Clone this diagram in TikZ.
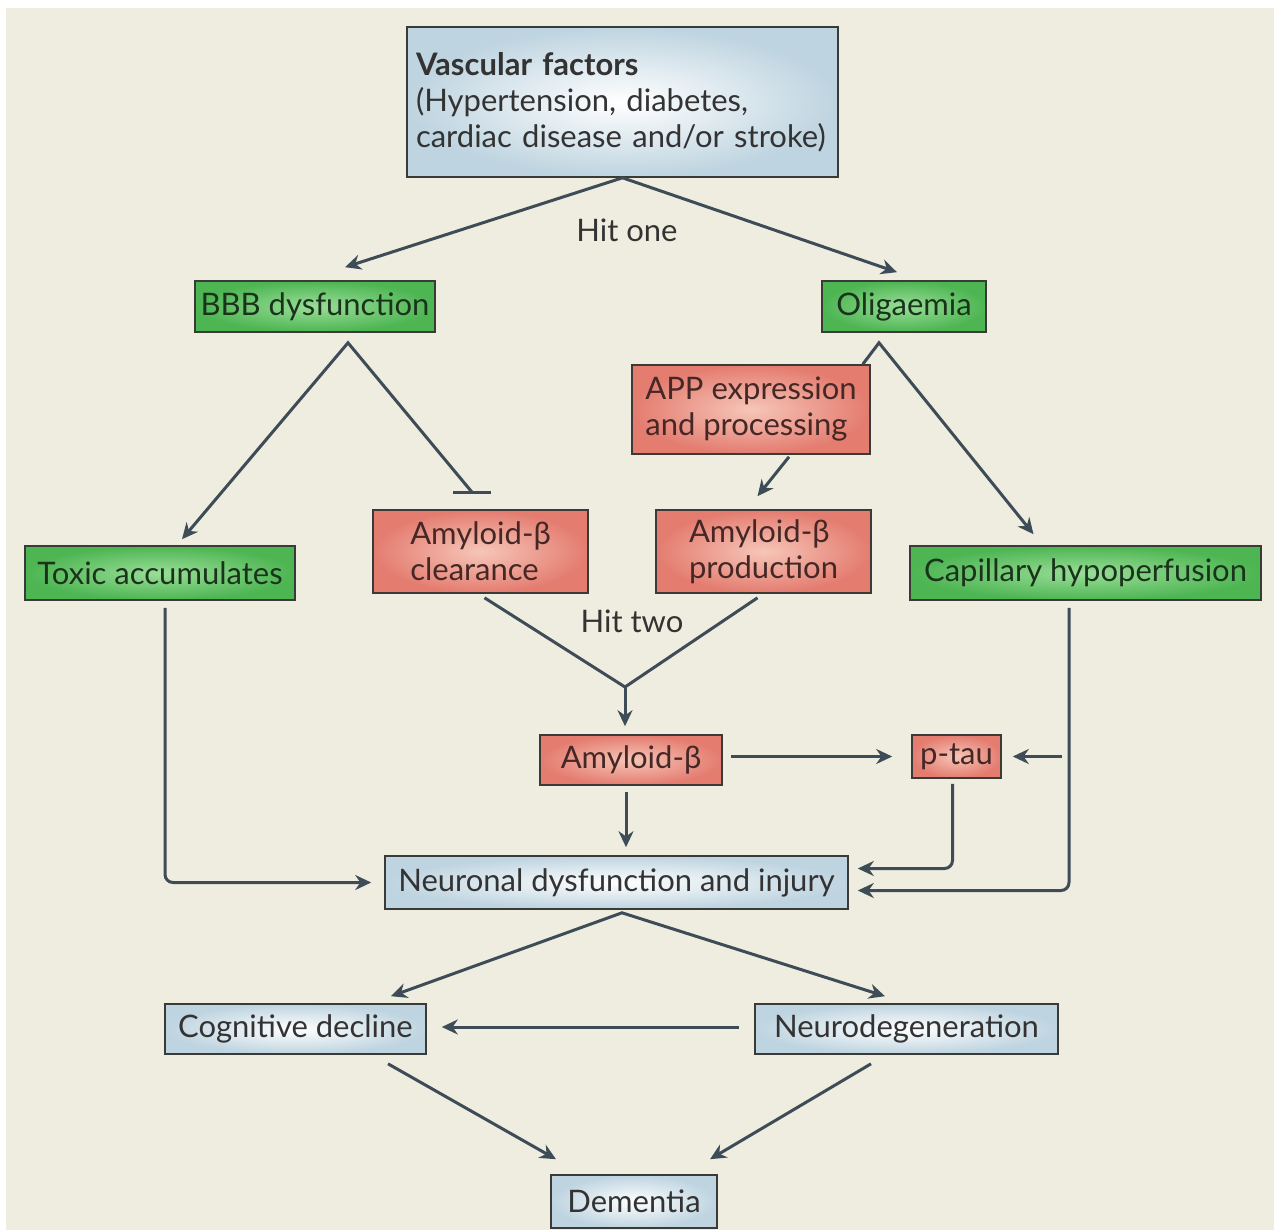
\documentclass[tikz,border=0pt]{standalone}
\usepackage{fontspec}
\setmainfont{Lato}
\usepackage{tikz}
\usetikzlibrary{arrows.meta,calc}
\definecolor{bgcream}{HTML}{EFEDE0}
\definecolor{linegray}{HTML}{3D4C56}
\definecolor{boxedge}{HTML}{3A3A36}
\definecolor{textgray}{HTML}{333333}
\definecolor{bluefill}{HTML}{BED4E0}
\definecolor{greenfill}{HTML}{4DB552}
\definecolor{greenglow}{HTML}{9ADE98}
\definecolor{greentext}{HTML}{1A341C}
\definecolor{redfill}{HTML}{E47C70}
\definecolor{redglow}{HTML}{F6C6B8}
\definecolor{redtext}{HTML}{452826}

\begin{document}
\begin{tikzpicture}[x=1pt, y=-1pt, node font=\fontsize{31}{36}\selectfont,
		box/.style={draw=boxedge, line width=1.6pt, inner sep=0pt, text=textgray},
		bluebox/.style={box, inner color=white, outer color=bluefill},
		greenbox/.style={box, inner color=greenglow, outer color=greenfill, text=greentext},
		redbox/.style={box, inner color=redglow, outer color=redfill, text=redtext, align=left},
		link/.style={draw=linegray, line width=3pt},
		arr/.style={link, -{Stealth[length=16pt,width=15pt]}},
		hitlabel/.style={text=textgray, inner sep=1pt}]
			\useasboundingbox (0,0) rectangle (1274,1230);
			\fill[white] (0,0) rectangle (1274,1230);
			\fill[bgcream] (6,8) rectangle (1274,1230);
			\node[bluebox, minimum width=431pt, minimum height=150pt, text width=413pt, align=left] (vasc) at (622.5,102) {\textbf{Vascular factors}\\(Hypertension, diabetes,\\cardiac disease and/or stroke)};
			\node[greenbox, minimum width=240pt, minimum height=51pt] (bbb) at (315,306.5) {BBB dysfunction};
			\node[greenbox, minimum width=164pt, minimum height=51pt] (olig) at (904,306.5) {Oligaemia};
			\node[redbox, minimum width=238pt, minimum height=89pt] (app) at (751,409.5) {APP expression\\and processing};
			\node[greenbox, minimum width=270pt, minimum height=54pt] (toxic) at (160,573) {Toxic accumulates};
			\node[redbox, minimum width=215pt, minimum height=83pt] (clear) at (480.5,551.5) {Amyloid-β\\clearance};
			\node[redbox, minimum width=215pt, minimum height=83pt] (prod) at (763.5,551.5) {Amyloid-β\\production};
			\node[greenbox, minimum width=351pt, minimum height=54pt] (cap) at (1085.5,573) {Capillary hypoperfusion};
			\node[redbox, minimum width=182pt, minimum height=50pt] (amyb) at (631,760) {Amyloid-β};
			\node[redbox, minimum width=89pt, minimum height=43pt] (ptau) at (956.5,756.5) {p-tau};
			\node[bluebox, minimum width=463pt, minimum height=53pt] (neur) at (616.5,882.5) {Neuronal dysfunction and injury};
			\node[bluebox, minimum width=261pt, minimum height=50pt] (cog) at (295.5,1029) {Cognitive decline};
			\node[bluebox, minimum width=303pt, minimum height=50pt] (neurodeg) at (906.5,1029) {Neurodegeneration};
			\node[bluebox, minimum width=166pt, minimum height=53pt] (dem) at (634,1201.5) {Dementia};
			\node[hitlabel] (hitone) at (627,230) {Hit one};
			\node[hitlabel] (hittwo) at (632,621) {Hit two};
			\coordinate (onejoin) at (vasc.south);
			\coordinate (bbbjoin) at ($(bbb.south)+(33,10)$);
			\coordinate (oligjoin) at ($(olig.south)+(-25,10)$);
			\coordinate (twojoin) at (625,687);
			\coordinate (neurjoin) at ($(neur.south)+(5.5,3)$);
			\coordinate (blockpt) at ($(clear.north)+(-8.5,-17)$);
			\draw[link, {Stealth[length=16pt,width=15pt]}-{Stealth[length=16pt,width=15pt]}] ($(bbb.north)+(30,-13)$) -- (onejoin) -- ($(olig.north)+(-7,-8)$);
			\draw[link, {Stealth[length=16pt,width=15pt]}-] ($(toxic.north)+(22,-6)$) -- (bbbjoin) -- (blockpt);
			\draw[link] ($(blockpt)+(-19,0)$) -- ($(blockpt)+(19,0)$);
			\draw[arr] ($(app.north east)+(-8,0)$) -- (oligjoin) -- ($(cap.north)+(-52,-11)$);
			\draw[arr] ($(app.south)+(38,2)$) -- ($(prod.north)+(-6,-13)$);
			\draw[link] ($(clear.south)+(4,4)$) -- (twojoin) -- ($(prod.south)+(-6,4)$);
			\draw[arr] (twojoin) -- ($(amyb.north)+(-6,-8)$);
			\draw[arr] ($(amyb.east)+(8,-3.5)$) -- ($(ptau.west)+(-19,0)$);
			\draw[arr] ($(ptau.east)+(60,0)$) -- ($(ptau.east)+(11,0)$);
			\draw[arr] ($(amyb.south)+(-5,6)$) -- ($(neur.north)+(9.5,-8)$);
			\draw[arr, rounded corners=8pt] ($(ptau.south)+(-4,5)$) |- ($(neur.east)+(9,-14)$);
			\draw[arr, rounded corners=8pt] ($(cap.south)+(-16.5,7)$) |- ($(neur.east)+(9,8)$);
			\draw[arr, rounded corners=8pt] ($(toxic.south)+(5,7)$) |- ($(neur.west)+(-13,0)$);
			\draw[link, {Stealth[length=16pt,width=15pt]}-{Stealth[length=16pt,width=15pt]}] ($(cog.north)+(95.5,-7)$) -- (neurjoin) -- ($(neurodeg.north)+(-21.5,-7)$);
			\draw[arr] ($(neurodeg.west)+(-15,-2)$) -- ($(cog.east)+(15,-2)$);
			\draw[arr] ($(cog.south)+(92.5,9)$) -- ($(dem.north)+(-78,-15)$);
			\draw[arr] ($(neurodeg.south)+(-35.5,9)$) -- ($(dem.north)+(76,-15)$);
\end{tikzpicture}
\end{document}
